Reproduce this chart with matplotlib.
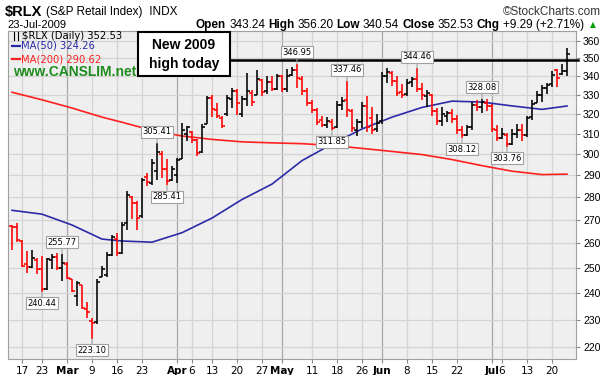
import matplotlib
matplotlib.use('Agg')
import matplotlib.pyplot as plt
from matplotlib.collections import LineCollection
from matplotlib.patches import Rectangle
from matplotlib.ticker import FixedLocator, FixedFormatter, NullLocator
import pandas as pd

W, H = 609, 375

# trading days on the chart (12-Feb-2009 .. 23-Jul-2009)
holidays = ['2009-02-16', '2009-04-10', '2009-05-25', '2009-07-03']
dates = [d.strftime('%Y-%m-%d') for d in pd.bdate_range('2009-02-12', '2009-07-23')]
dates = [d for d in dates if d not in holidays]

opens = [267.5, 267.0, 261.0, 251.5, 250.2, 253.0, 249.5, 241.5, 253.0, 254.5,
         250.0, 251.5, 245.5, 239.0, 243.0, 234.0, 229.5, 229.0, 246.5, 247.0,
         255.0, 262.0, 256.0, 268.5, 280.0, 277.5, 271.5, 289.5, 286.5, 292.0,
         300.0, 293.0, 288.0, 290.0, 298.0, 310.0, 311.0, 307.0, 301.0, 315.0,
         328.5, 322.0, 318.0, 320.0, 328.0, 332.0, 320.0, 328.0, 331.0, 330.0,
         338.0, 332.0, 337.0, 333.5, 340.0, 333.0, 341.0, 343.5, 338.5, 332.0,
         326.0, 322.0, 317.0, 314.5, 316.0, 313.5, 325.0, 327.5, 321.5, 312.0,
         316.0, 324.0, 318.0, 312.5, 316.5, 340.0, 342.0, 337.5, 331.5, 330.5,
         337.0, 338.5, 333.5, 329.5, 330.0, 321.5, 316.5, 319.0, 320.5, 317.5,
         312.0, 309.5, 313.5, 325.0, 323.5, 326.0, 324.0, 312.0, 308.0, 309.5,
         305.0, 310.0, 312.0, 309.5, 318.5, 326.0, 330.0, 334.0, 336.0, 343.5,
         341.5, 343.24]
highs = [268.0, 268.5, 261.4, 257.0, 257.4, 254.0, 254.7, 254.0, 255.6, 256.0,
         255.77, 252.2, 245.5, 244.9, 243.0, 236.5, 230.5, 245.5, 250.9, 256.3,
         263.5, 264.3, 269.0, 282.7, 280.5, 278.3, 288.9, 291.2, 297.6, 305.41,
         301.6, 297.6, 294.4, 298.4, 315.7, 313.9, 311.4, 307.3, 314.8, 329.5,
         330.3, 326.0, 319.1, 330.3, 334.0, 333.0, 329.5, 342.0, 332.5, 343.5,
         338.5, 340.3, 340.3, 341.5, 341.0, 344.0, 345.0, 346.95, 340.0, 334.0,
         327.5, 323.0, 319.0, 318.5, 317.5, 327.0, 329.0, 337.46, 322.6, 317.5,
         326.5, 329.5, 323.5, 320.0, 342.5, 344.9, 343.0, 340.3, 336.0, 338.5,
         339.5, 344.46, 336.5, 332.5, 330.5, 323.0, 323.5, 321.5, 322.5, 319.5,
         314.0, 314.5, 326.5, 327.5, 328.08, 328.0, 325.5, 314.5, 313.0, 310.5,
         312.5, 315.0, 315.0, 319.0, 327.5, 332.0, 335.5, 336.5, 343.0, 344.0,
         347.0, 356.20]
lows = [257.4, 260.5, 250.4, 247.9, 249.8, 247.5, 240.44, 241.2, 249.5, 249.2,
        244.9, 245.5, 240.6, 235.2, 234.0, 230.5, 223.10, 228.5, 246.2, 246.2,
        254.9, 254.9, 255.4, 265.8, 270.2, 265.8, 270.9, 285.1, 285.8, 287.7,
        289.0, 285.41, 287.3, 286.6, 297.6, 306.4, 305.7, 299.2, 300.8, 314.8,
        318.5, 318.0, 312.9, 319.1, 323.2, 319.5, 318.5, 324.5, 324.0, 330.0,
        329.5, 330.5, 332.0, 332.5, 331.5, 331.5, 340.0, 334.0, 330.0, 324.0,
        320.5, 314.5, 313.5, 313.0, 311.85, 313.0, 322.0, 318.5, 310.8, 309.2,
        313.0, 310.8, 310.0, 310.8, 315.0, 336.7, 334.9, 329.5, 328.5, 329.5,
        334.5, 331.5, 327.5, 323.5, 319.0, 314.5, 314.0, 316.0, 315.5, 310.0,
        308.12, 309.0, 312.0, 321.5, 320.5, 321.5, 311.0, 306.5, 307.5, 303.76,
        304.5, 308.0, 306.5, 308.5, 317.0, 326.0, 326.5, 330.5, 334.5, 334.3,
        341.0, 340.54]
closes = [267.0, 261.4, 250.8, 250.2, 254.0, 249.5, 241.5, 253.5, 254.5, 250.0,
          252.0, 246.0, 241.0, 244.0, 234.5, 233.0, 228.8, 244.5, 249.5, 255.0,
          262.5, 256.0, 268.0, 281.0, 277.5, 271.0, 288.0, 287.0, 296.0, 301.0,
          293.0, 287.5, 293.0, 297.5, 312.0, 313.5, 307.0, 300.5, 313.5, 328.5,
          322.5, 319.0, 314.0, 328.5, 332.0, 326.0, 328.0, 332.0, 326.5, 338.5,
          331.5, 337.0, 333.0, 340.0, 333.0, 340.5, 343.5, 339.0, 332.0, 326.0,
          322.0, 316.0, 314.5, 316.5, 313.0, 325.0, 327.0, 322.0, 313.0, 316.0,
          324.0, 313.5, 312.0, 315.5, 340.5, 342.5, 337.5, 331.0, 330.0, 336.5,
          338.5, 333.5, 330.0, 331.0, 321.5, 316.5, 320.0, 320.5, 317.5, 312.0,
          309.5, 313.5, 325.0, 323.5, 326.5, 324.0, 312.5, 308.0, 310.0, 305.0,
          310.0, 312.0, 309.5, 318.0, 325.5, 330.0, 334.0, 335.5, 341.0, 339.0,
          343.24, 352.53]

# moving averages read at selected days
ma_dates = ['2009-02-12', '2009-02-23', '2009-03-03', '2009-03-11', '2009-03-17',
            '2009-03-25', '2009-04-02', '2009-04-13', '2009-04-21', '2009-04-29',
            '2009-05-07', '2009-05-15', '2009-05-26', '2009-06-03', '2009-06-11',
            '2009-06-19', '2009-06-29', '2009-07-08', '2009-07-16', '2009-07-23']
ma50 = [274.2, 272.5, 267.8, 261.8, 261.0, 260.5, 264.5, 270.8, 279.0, 286.0,
        297.0, 305.0, 312.5, 318.5, 323.5, 326.8, 326.3, 324.3, 322.5, 324.26]
ma200 = [331.5, 327.5, 323.2, 318.5, 315.9, 311.8, 309.0, 307.3, 306.1, 305.6,
         305.2, 304.3, 302.9, 301.4, 299.9, 297.5, 294.6, 292.0, 290.4, 290.62]

# labelled swing highs / lows
pivot_dates = ['2009-02-23', '2009-02-27', '2009-03-09', '2009-03-26', '2009-03-30', '2009-05-06',
               '2009-05-15', '2009-05-20', '2009-06-10', '2009-06-23', '2009-06-29', '2009-07-07']
pivot_vals = [240.44, 255.77, 223.10, 305.41, 285.41, 346.95,
              311.85, 337.46, 344.46, 308.12, 328.08, 303.76]
pivot_kind = ['low', 'high', 'low', 'high', 'low', 'high',
              'low', 'high', 'high', 'low', 'high', 'low']

tick_dates = ['2009-02-17', '2009-02-23', '2009-03-02', '2009-03-09', '2009-03-16', '2009-03-23',
              '2009-04-01', '2009-04-06', '2009-04-13', '2009-04-20', '2009-04-27', '2009-05-01',
              '2009-05-11', '2009-05-18', '2009-05-26', '2009-06-01', '2009-06-08', '2009-06-15',
              '2009-06-22', '2009-07-01', '2009-07-06', '2009-07-13', '2009-07-20']
tick_labels = ['17', '23', 'Mar', '9', '16', '23', 'Apr', '6', '13', '20', '27', 'May',
               '11', '18', '26', 'Jun', '8', '15', '22', 'Jul', '6', '13', '20']
month_labels = ['Mar', 'Apr', 'May', 'Jun', 'Jul']

y_ticks = list(range(220, 361, 10))
high_level = 349.0

pos = {d: i for i, d in enumerate(dates)}


def px(x, y):
    return x / W, 1 - y / H


def ftext(x, y, s, **kw):
    kw.setdefault('va', 'center')
    return fig.text(x / W, 1 - y / H, s, **kw)


def text_row(x, y, pieces, gap=3, **kw):
    # lay text pieces one after another, returns the right end in pixels
    r = fig.canvas.get_renderer()
    for s, bold in pieces:
        t = ftext(x, y, s, fontweight='bold' if bold else 'normal', **kw)
        x = t.get_window_extent(r).x1 + gap
    return x


fig = plt.figure(figsize=(W / 100, H / 100), dpi=100)
fig.patch.set_facecolor('white')
ax = fig.add_axes([8 / W, (H - 359) / H, 568 / W, 328 / H])
ax.set_facecolor('#efefef')

# grid
ax.set_yscale('log')
ax.set_xlim(-0.8, 112.8)
ax.set_ylim(215.9, 365.8)
for d, lab in zip(tick_dates, tick_labels):
    c = '#a8a8a8' if lab in month_labels else '#d4d4d4'
    ax.axvline(pos[d], color=c, lw=0.9, zorder=0)
for v in y_ticks:
    ax.axhline(v, color='#d4d4d4', lw=0.9, zorder=0)

# OHLC bars
segs, cols = [], []
for j in range(len(dates)):
    prev = closes[j - 1] if j > 0 else opens[j]
    c = '#ff0000' if closes[j] < prev else '#000000'
    segs += [[(j, lows[j]), (j, highs[j])],
             [(j - 0.6, opens[j]), (j, opens[j])],
             [(j, closes[j]), (j + 0.6, closes[j])]]
    cols += [c, c, c]
ax.add_collection(LineCollection(segs, colors=cols, linewidths=1.15, zorder=3))

# moving averages
mx = [pos[d] for d in ma_dates]
ax.plot(mx, ma50, color='#2b2ba8', lw=1.2, zorder=2)
ax.plot(mx, ma200, color='#ff2020', lw=1.2, zorder=2)

# pivot labels
for d, v, k in zip(pivot_dates, pivot_vals, pivot_kind):
    up = k == 'high'
    ax.annotate('%.2f' % v, xy=(pos[d], v), xytext=(0, 5 if up else -5),
                textcoords='offset points', ha='center', va='bottom' if up else 'top',
                fontsize=6, family='DejaVu Sans', zorder=5,
                bbox=dict(boxstyle='square,pad=0.18', fc='white', ec='#a0a0a0', lw=0.8),
                arrowprops=dict(arrowstyle='-', color='#a0a0a0', lw=0.8, shrinkA=0, shrinkB=0))

# new high line
ax.axhline(high_level, xmin=(230 - 8) / 568, xmax=(578 - 8) / 568, color='black',
           lw=1.8, zorder=4, clip_on=False)

# axes styling
ax.xaxis.set_major_locator(FixedLocator([pos[d] for d in tick_dates]))
ax.xaxis.set_major_formatter(FixedFormatter(tick_labels))
ax.yaxis.set_major_locator(FixedLocator(y_ticks))
ax.yaxis.set_major_formatter(FixedFormatter([str(v) for v in y_ticks]))
ax.yaxis.set_minor_locator(NullLocator())
ax.yaxis.tick_right()
ax.tick_params(axis='y', length=3, color='#888888', labelsize=7.5, pad=2)
ax.tick_params(axis='x', length=3, color='#888888', labelsize=7.5, pad=2)
for lab in ax.get_xticklabels():
    lab.set_family('DejaVu Sans')
    if lab.get_text() in month_labels:
        lab.set_fontweight('bold')
for lab in ax.get_yticklabels():
    lab.set_family('Liberation Sans')
for s in ax.spines.values():
    s.set_color('#a0a0a0')
    s.set_linewidth(0.8)

# header
x_end = text_row(5, 12, [('$RLX', True)], fontsize=10.5, family='Liberation Sans')
text_row(x_end + 1, 12, [('(S&P Retail Index)', False), (' INDX', False)],
         fontsize=8.5, family='Liberation Sans')
ftext(601, 12, '\u00a9StockCharts.com', fontsize=8.5, family='Liberation Sans',
      ha='right', color='#333333')
ftext(7, 25, '23-Jul-2009', fontsize=8, family='Liberation Sans')
hdr = [('Open', True), ('343.24', False), ('High', True), ('356.20', False),
       ('Low', True), ('340.54', False), ('Close', True), ('352.53', False),
       ('Chg', True), ('+9.29 (+2.71%)', False)]
end = text_row(196, 25, hdr, gap=3, fontsize=8.5, family='Liberation Sans')
ftext(end + 3, 25, '\u25b2', fontsize=5.5, color='#00a000')

# in-chart legend
ftext(22, 36, '$RLX (Daily) 352.53', fontsize=7.2, family='DejaVu Sans')
for xx in (14, 18):
    fig.add_artist(plt.Line2D([xx / W, xx / W], [1 - 32 / H, 1 - 40 / H], color='black', lw=0.8))
fig.add_artist(plt.Line2D([12 / W, 20 / W], [1 - 46 / H, 1 - 46 / H], color='#2b2ba8', lw=1.6))
ftext(21, 46, 'MA(50) 324.26', fontsize=7.2, family='DejaVu Sans', color='#2b2ba8')
fig.add_artist(plt.Line2D([12 / W, 20 / W], [1 - 59 / H, 1 - 59 / H], color='#ff2020', lw=1.6))
ftext(21, 59, 'MA(200) 290.62', fontsize=7.2, family='DejaVu Sans', color='#ff2020')
ftext(13, 72, 'www.CANSLIM.net', fontsize=10, fontweight='bold',
      family='Liberation Sans', color='#1e8c1e')

# callout box
bx, by = px(138, 76)
fig.add_artist(Rectangle((bx, by), 92 / W, 44 / H, transform=fig.transFigure,
                         fc='white', ec='black', lw=1.5, zorder=6))
ftext(184, 45, 'New 2009', fontsize=10, fontweight='bold', family='Liberation Sans',
      ha='center', zorder=7)
ftext(184, 64, 'high today', fontsize=10, fontweight='bold', family='Liberation Sans',
      ha='center', zorder=7)

fig.savefig('out.png', dpi=100)
